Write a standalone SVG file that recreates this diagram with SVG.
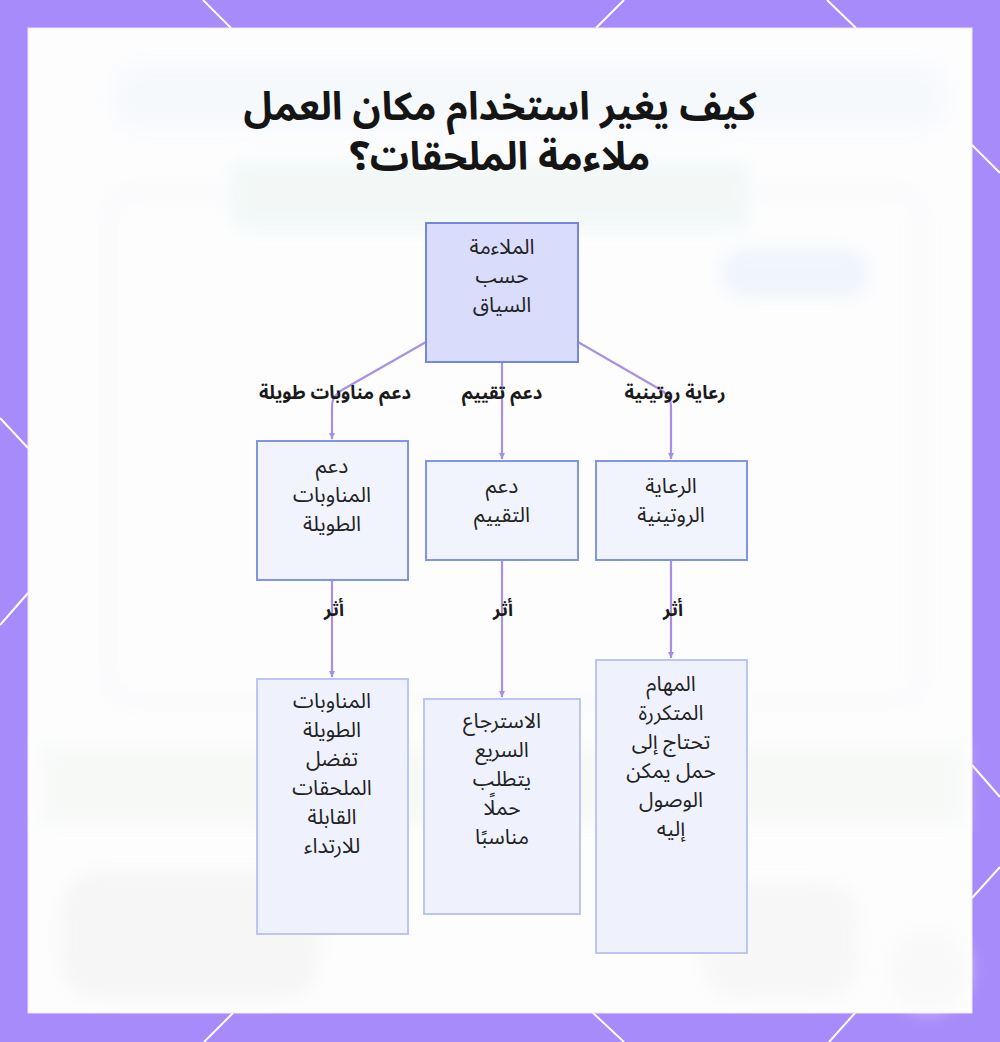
<svg xmlns="http://www.w3.org/2000/svg" width="1000" height="1042" viewBox="0 0 1000 1042">
  <defs>
    <filter id="blur" x="-20%" y="-20%" width="140%" height="140%">
      <feGaussianBlur stdDeviation="8"/>
    </filter>
    <marker id="arrow" markerWidth="8" markerHeight="8" refX="6" refY="4" orient="auto" markerUnits="userSpaceOnUse">
      <path d="M0,1 L6,4 L0,7 Z" fill="#a58fe0"/>
    </marker>
    <style>
      .edge { fill: none; stroke: #a891e3; stroke-width: 2.2; }
      .elabel { font-family: "Noto Sans Arabic", "DejaVu Sans", sans-serif; font-size: 18.5px; font-weight: bold; fill: #1a1a1a; text-anchor: middle; }
      .ntext { font-family: "Noto Sans Arabic", "DejaVu Sans", sans-serif; font-size: 21px; fill: #222; text-anchor: middle; }
      .root { fill: #d9dcfa; stroke: #7586dc; stroke-width: 2; }
      .mid { fill: #f1f3fd; stroke: #8096e2; stroke-width: 2; }
      .leaf { fill: #eff2fd; stroke: #bcc6f0; stroke-width: 2; }
      .title { font-family: "Noto Sans Arabic", "DejaVu Sans", sans-serif; font-size: 39px; font-weight: bold; fill: #151515; text-anchor: middle; }
      .deco { stroke: #ffffff; stroke-width: 2; }
    </style>
  </defs>

  <!-- frame -->
  <rect x="0" y="0" width="1000" height="1042" fill="#a78bfa"/>
  <g class="deco">
    <line x1="203" y1="0" x2="231" y2="28"/>
    <line x1="624" y1="0" x2="596" y2="28"/>
    <line x1="827" y1="0" x2="856" y2="28"/>
    <line x1="972" y1="145" x2="1000" y2="173"/>
    <line x1="972" y1="765" x2="1000" y2="797"/>
    <line x1="1000" y1="867" x2="972" y2="898"/>
    <line x1="0" y1="418" x2="28" y2="448"/>
    <line x1="28" y1="593" x2="0" y2="625"/>
    <line x1="233" y1="1013" x2="204" y2="1042"/>
    <line x1="593" y1="1013" x2="624" y2="1042"/>
    <line x1="855" y1="1013" x2="829" y2="1042"/>
  </g>
  <rect x="28" y="28" width="944" height="985" fill="#fdfdfe" stroke="#efe6fb" stroke-width="1"/>

  <!-- faint blurred background -->
  <g filter="url(#blur)" opacity="0.55">
    <rect x="110" y="62" width="840" height="70" rx="30" fill="#f2f6fc"/>
    <rect x="230" y="160" width="520" height="70" rx="14" fill="#eaf4f2"/>
    <rect x="108" y="192" width="812" height="510" rx="24" fill="none" stroke="#f0f2f5" stroke-width="6"/>
    <rect x="720" y="248" width="150" height="50" rx="25" fill="#e6eefb"/>
    <rect x="40" y="745" width="925" height="80" fill="#f3f6f3"/>
    <rect x="60" y="870" width="260" height="130" rx="40" fill="#f1f1f2"/>
    <rect x="700" y="880" width="160" height="120" rx="40" fill="#f3f3f4"/>
    <circle cx="928" cy="970" r="42" fill="#f6f6f7"/>
  </g>

  <!-- title -->
  <text class="title" x="500" y="120">كيف يغير استخدام مكان العمل</text>
  <text class="title" x="500" y="170">ملاءمة الملحقات؟</text>

  <!-- connectors -->
  <g id="connectors">
    <path class="edge" d="M426,342 L342,390 Q332,396 332,406 L332,439" marker-end="url(#arrow)"/>
    <path class="edge" d="M502,362 L502,459" marker-end="url(#arrow)"/>
    <path class="edge" d="M578,342 L661,390 Q671,396 671,406 L671,459" marker-end="url(#arrow)"/>
    <path class="edge" d="M332,580 L332,677" marker-end="url(#arrow)"/>
    <path class="edge" d="M502,560 L502,697" marker-end="url(#arrow)"/>
    <path class="edge" d="M671,560 L671,658" marker-end="url(#arrow)"/>
    <text class="elabel" x="335" y="399">دعم مناوبات طويلة</text>
    <text class="elabel" x="502" y="399">دعم تقييم</text>
    <text class="elabel" x="675" y="399">رعاية روتينية</text>
    <text class="elabel" x="334" y="616">أثر</text>
    <text class="elabel" x="503" y="616">أثر</text>
    <text class="elabel" x="673" y="616">أثر</text>
  </g>

  <!-- nodes -->
  <g id="root">
    <rect class="root" x="426" y="223" width="152" height="139"/>
    <text class="ntext" x="502" y="254">الملاءمة</text>
    <text class="ntext" x="502" y="283">حسب</text>
    <text class="ntext" x="502" y="312">السياق</text>
  </g>
  <g id="shifts">
    <rect class="mid" x="257" y="441" width="151" height="139"/>
    <text class="ntext" x="332" y="473">دعم</text>
    <text class="ntext" x="332" y="502">المناوبات</text>
    <text class="ntext" x="332" y="531">الطويلة</text>
  </g>
  <g id="assess">
    <rect class="mid" x="426" y="461" width="152" height="99"/>
    <text class="ntext" x="502" y="493">دعم</text>
    <text class="ntext" x="502" y="522">التقييم</text>
  </g>
  <g id="routine">
    <rect class="mid" x="596" y="461" width="151" height="99"/>
    <text class="ntext" x="671" y="493">الرعاية</text>
    <text class="ntext" x="671" y="522">الروتينية</text>
  </g>
  <g id="wearable">
    <rect class="leaf" x="257" y="679" width="151" height="255"/>
    <text class="ntext" x="332" y="708">المناوبات</text>
    <text class="ntext" x="332" y="737">الطويلة</text>
    <text class="ntext" x="332" y="766">تفضل</text>
    <text class="ntext" x="332" y="795">الملحقات</text>
    <text class="ntext" x="332" y="824">القابلة</text>
    <text class="ntext" x="332" y="853">للارتداء</text>
  </g>
  <g id="retrieval">
    <rect class="leaf" x="424" y="699" width="156" height="215"/>
    <text class="ntext" x="502" y="728">الاسترجاع</text>
    <text class="ntext" x="502" y="757">السريع</text>
    <text class="ntext" x="502" y="786">يتطلب</text>
    <text class="ntext" x="502" y="815">حملًا</text>
    <text class="ntext" x="502" y="844">مناسبًا</text>
  </g>
  <g id="repeated">
    <rect class="leaf" x="596" y="660" width="151" height="293"/>
    <text class="ntext" x="671" y="691">المهام</text>
    <text class="ntext" x="671" y="720">المتكررة</text>
    <text class="ntext" x="671" y="749">تحتاج إلى</text>
    <text class="ntext" x="671" y="778">حمل يمكن</text>
    <text class="ntext" x="671" y="807">الوصول</text>
    <text class="ntext" x="671" y="836">إليه</text>
  </g>
</svg>
